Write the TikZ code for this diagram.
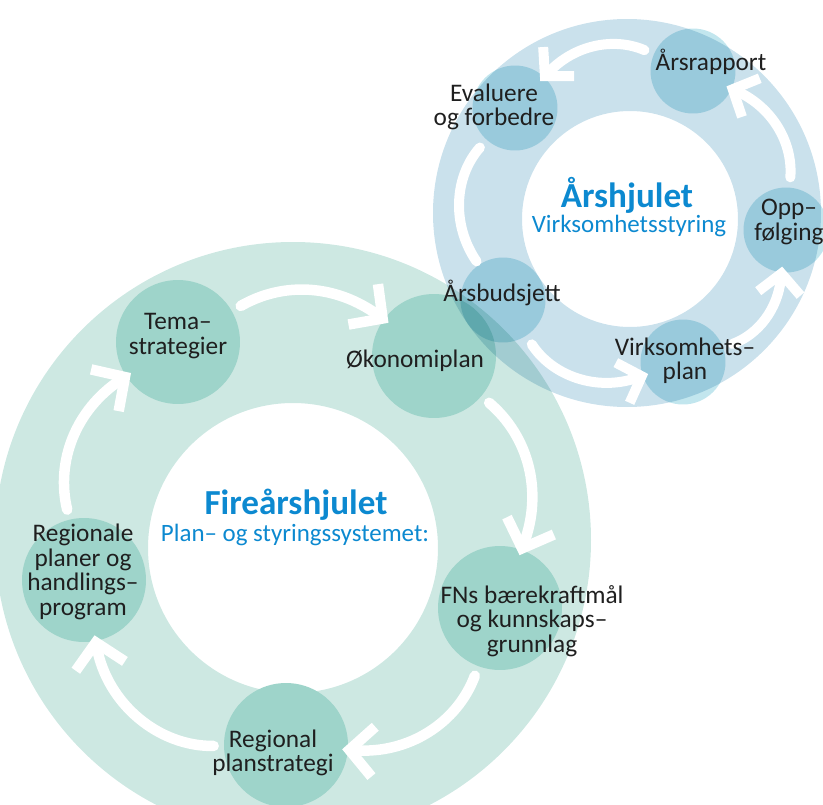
\documentclass[tikz,border=0pt]{standalone}
\usepackage{fontspec}
\setmainfont{Carlito}
\usepackage{tikz}
\usetikzlibrary{arrows.meta}
\definecolor{ringteal}{HTML}{CDE8E2}
\definecolor{hubteal}{HTML}{9ED4CA}
\definecolor{ringblue}{HTML}{CAE1EC}
\definecolor{hubblue}{HTML}{C2E6EE}
\definecolor{titleblue}{HTML}{0C89D0}
\tikzset{
    >={Straight Barb[length=0.48cm, width=1.0cm]},
    flow/.style={draw=white, line width=0.21cm, line cap=round, ->,
        shorten <=0.2cm, shorten >=-0.12cm},
    smallflow/.style={flow, -{Straight Barb[length=0.4cm, width=0.85cm]},
        line width=0.2cm},
    flownoarrow/.style={draw=white, line width=0.2cm, line cap=round,
        shorten <=0.2cm, shorten >=0.08cm},
    bighub/.style={circle, fill=hubteal, minimum size=2.48cm, inner sep=0pt},
    smallhub/.style={circle, fill=hubblue, minimum size=1.7cm, inner sep=0pt},
    hubtext/.style={align=center, text=black!88, inner sep=1pt,
        font=\fontsize{14.4}{13.9}\selectfont},
    wheeltitle/.style={text=titleblue, inner sep=0pt, font=\fontsize{20}{22}\selectfont\bfseries},
    wheelsub/.style={text=titleblue, inner sep=0pt, font=\fontsize{14.2}{15}\selectfont},
}

\begin{document}
\begin{tikzpicture}[x=0.02cm, y=-0.02cm]
\useasboundingbox (0,0) rectangle (823,805);
\clip (0,0) rectangle (823,805);
% Fireaarshjulet
\fill[ringteal, even odd rule] (293,540) circle[radius=298] (293,548) circle[radius=145];
\node[bighub] (tema) at (178,342) {};
\node[bighub] (okonomi) at (434,356) {};
\node[bighub] (fns) at (500,608) {};
\node[bighub] (regional) at (286,745) {};
\node[bighub] (regionale) at (84,580) {};
\draw[flow] (tema) to[bend left=33] (okonomi);
\draw[flow] (okonomi) to[bend left=35] (fns);
\draw[flow] (fns) to[bend left=37] (regional);
\draw[flow] (regional) to[bend left=40] (regionale);
\draw[flow] (regionale) to[bend left=35] (tema);
% Aarshjulet
\begin{scope}[blend mode=multiply]
\fill[ringblue, even odd rule] (627,213) circle[radius=194] (630,219) circle[radius=108];
\node[smallhub] (arsrapport) at (693,71) {};
\node[smallhub] (evaluere) at (515,108) {};
\node[smallhub] (arsbudsjett) at (503,300) {};
\node[smallhub] (virksomhet) at (683,362) {};
\node[smallhub] (oppfolging) at (786,230) {};
\end{scope}
\draw[smallflow] (arsbudsjett) to[bend right=38] (virksomhet);
\draw[smallflow] (virksomhet) to[bend right=32] (oppfolging);
\draw[smallflow] (oppfolging) to[bend right=35] (arsrapport);
\draw[smallflow] (arsrapport) to[bend right=35] (evaluere);
\draw[flownoarrow] (evaluere) to[bend right=38] (arsbudsjett);

\node[hubtext] (temaT) at (178,336) {Tema–\\strategier};
\node[hubtext] (okonomiT) at (415,361) {Økonomiplan};
\node[hubtext] (fnsT) at (532,621) {FNs bærekraftmål\\og kunnskaps–\\grunnlag};
\node[hubtext] (regionalT) at (273,753) {Regional\\planstrategi};
\node[hubtext] (regionaleT) at (83,572) {Regionale\\planer og\\handlings–\\program};
\node[hubtext] (arsrapportT) at (711,62) {Årsrapport};
\node[hubtext] (evaluereT) at (494,107) {Evaluere\\og forbedre};
\node[hubtext] (arsbudsjettT) at (502,293) {Årsbudsjett};
\node[hubtext] (virksomhetT) at (685,361) {Virksomhets–\\plan};
\node[hubtext] (oppfolgingT) at (789,222) {Opp–\\følging};
\node[wheeltitle] (fireT) at (296,505) {Fireårshjulet};
\node[wheelsub] (planT) at (295,535) {Plan– og styringssystemet:};
\node[wheeltitle] (arsT) at (627,195) {Årshjulet};
\node[wheelsub] (virkT) at (629,226) {Virksomhetsstyring};
\end{tikzpicture}
\end{document}
